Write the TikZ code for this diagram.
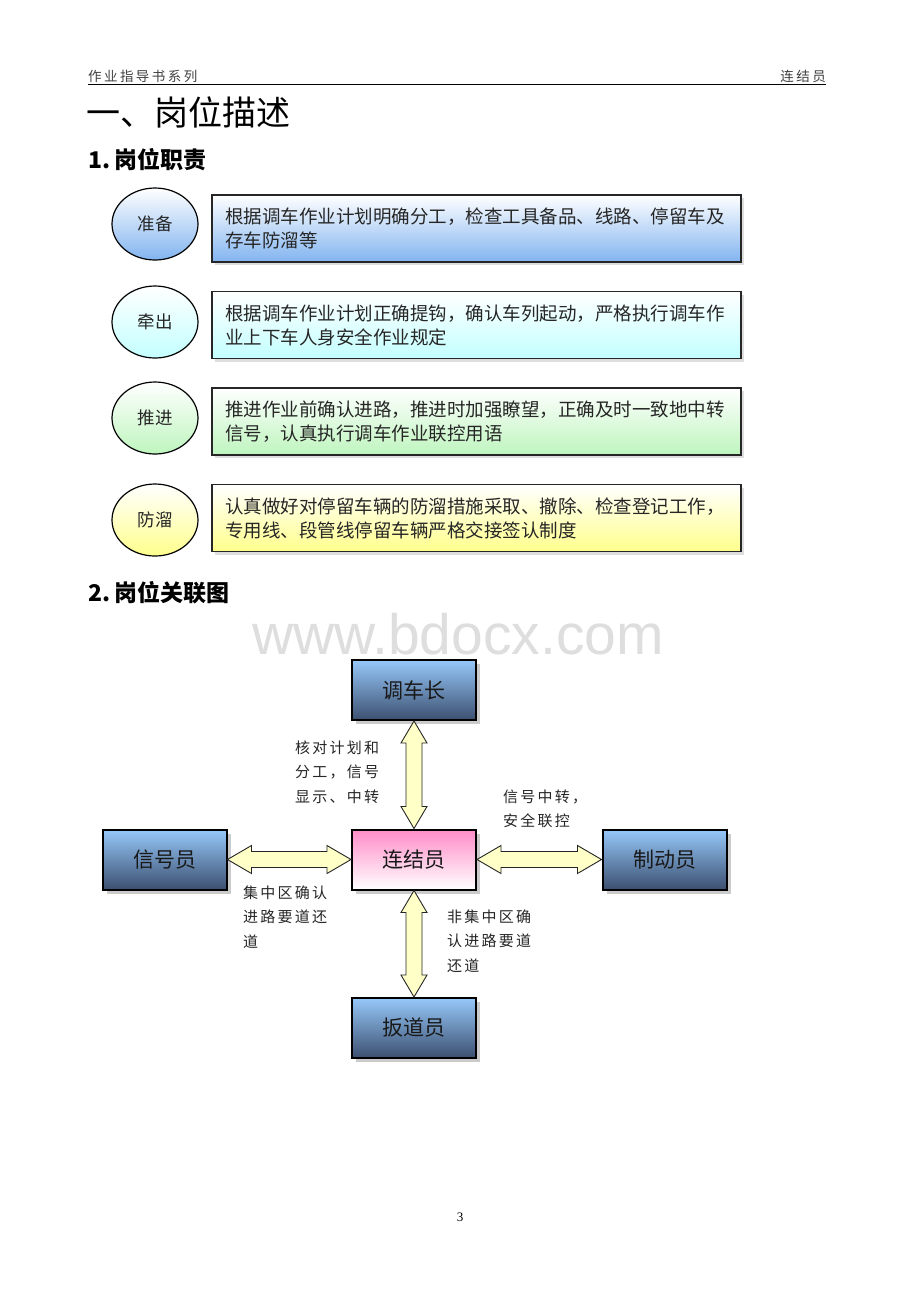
\documentclass[tikz,border=0pt]{standalone}
\usepackage{fontspec}
\setmainfont{Noto Sans CJK SC}
\newfontfamily\numfont{Liberation Serif}
\newfontfamily\wmfont{Liberation Sans}
\usetikzlibrary{shadows,calc,shapes.geometric}
\definecolor{rbtop}{RGB}{150,200,250}
\definecolor{rbbot}{RGB}{60,80,112}
\definecolor{pinktop}{RGB}{255,140,200}
\definecolor{arrfill}{RGB}{255,255,200}
\definecolor{bluebot}{RGB}{130,180,240}
\definecolor{cyanbot}{RGB}{195,255,255}
\definecolor{greenbot}{RGB}{190,245,190}
\definecolor{yellowbot}{RGB}{255,255,140}
\newcommand\vdarrow[2]{\draw[blockarrow] (#1) -- ($(#1)+(13,22)$) -- ($(#1)+(8,22)$) -- ($(#2)+(8,-22)$) -- ($(#2)+(13,-22)$) -- (#2) -- ($(#2)+(-13,-22)$) -- ($(#2)+(-8,-22)$) -- ($(#1)+(-8,22)$) -- ($(#1)+(-13,22)$) -- cycle;}
\newcommand\hdarrow[2]{\draw[blockarrow] (#1) -- ($(#1)+(24,-14)$) -- ($(#1)+(24,-8)$) -- ($(#2)+(-24,-8)$) -- ($(#2)+(-24,-14)$) -- (#2) -- ($(#2)+(-24,14)$) -- ($(#2)+(-24,8)$) -- ($(#1)+(24,8)$) -- ($(#1)+(24,14)$) -- cycle;}
\begin{document}
\begin{tikzpicture}[x=1pt,y=-1pt,
  taskbox/.style={rectangle, draw=black!85, line width=1.3pt, minimum width=529pt, minimum height=67pt,
     text width=503pt, inner xsep=13pt, align=left, font=\fontsize{18.5}{24}\selectfont, text=black!85,
     drop shadow={shadow xshift=3pt, shadow yshift=-3pt, fill=black!25}},
  taskcirc/.style={ellipse, draw=black, line width=1.2pt, minimum width=86pt, minimum height=72pt,
     font=\fontsize{17.5}{18}\selectfont, text=black!85},
  rolebox/.style={rectangle, draw=black, line width=2pt, minimum width=124pt, minimum height=60pt,
     top color=rbtop, bottom color=rbbot, font=\fontsize{21}{21}\selectfont, text=black!90,
     drop shadow={shadow xshift=4pt, shadow yshift=-4pt, fill=black!40}},
  blockarrow/.style={draw=black!85, line width=0.9pt, fill=arrfill, line join=miter},
  lbl/.style={anchor=north west, inner sep=0pt, align=left, text=black!85,
     font=\fontsize{15}{24.5}\selectfont\addfontfeature{LetterSpace=15}},
]
\useasboundingbox (0,0) rectangle (920,1302);
\fill[white] (0,0) rectangle (920,1302);

% header
\node[anchor=base west, inner sep=0pt, text=black!75, font=\fontsize{13.5}{14}\selectfont\addfontfeature{LetterSpace=18}] (hl) at (88,81) {作业指导书系列};
\node[anchor=base east, inner sep=0pt, text=black!75, font=\fontsize{13.5}{14}\selectfont\addfontfeature{LetterSpace=18}] (hr) at (826,81) {连结员};
\draw[line width=0.8pt] (88,84.5) -- (826,84.5);

% titles
\node[anchor=west, inner sep=0pt, font=\fontsize{34}{34}\selectfont] (t1) at (86,112) {一、岗位描述};
\node[anchor=west, inner sep=0pt, font=\fontsize{23}{23}\selectfont\bfseries] (t2) at (88,160) {1.\,岗位职责};
\node[anchor=west, inner sep=0pt, font=\fontsize{23}{23}\selectfont\bfseries] (t3) at (88,593) {2.\,岗位关联图};

% section 1
\node[taskbox, top color=white, bottom color=bluebot] (b1) at (476.5,228.5) {根据调车作业计划明确分工，检查工具备品、线路、停留车及\\存车防溜等};
\node[taskbox, top color=white, bottom color=cyanbot] (b2) at (476.5,325) {根据调车作业计划正确提钩，确认车列起动，严格执行调车作\\业上下车人身安全作业规定};
\node[taskbox, top color=white, bottom color=greenbot] (b3) at (476.5,421.5) {推进作业前确认进路，推进时加强瞭望，正确及时一致地中转\\信号，认真执行调车作业联控用语};
\node[taskbox, top color=white, bottom color=yellowbot] (b4) at (476.5,518) {认真做好对停留车辆的防溜措施采取、撤除、检查登记工作，\\专用线、段管线停留车辆严格交接签认制度};

\node[taskcirc, top color=white, bottom color=bluebot] (c1) at (155,224) {准备};
\node[taskcirc, top color=white, bottom color=cyanbot] (c2) at (155,322) {牵出};
\node[taskcirc, top color=white, bottom color=greenbot] (c3) at (155,418) {推进};
\node[taskcirc, top color=white, bottom color=yellowbot] (c4) at (155,520) {防溜};

% watermark
\node[inner sep=0pt, text=black!13, font=\wmfont\fontsize{57}{57}\selectfont] (wm) at (458,634) {www.bdocx.com};

% section 2
\node[rolebox] (tz) at (414,690) {调车长};
\node[rolebox] (xh) at (164.5,859.5) {信号员};
\node[rolebox, top color=pinktop, bottom color=white] (lj) at (414,859.5) {连结员};
\node[rolebox] (zd) at (664.5,859.5) {制动员};
\node[rolebox] (bd) at (414,1028) {扳道员};

\vdarrow{tz.south}{lj.north}
\vdarrow{lj.south}{bd.north}
\hdarrow{xh.east}{lj.west}
\hdarrow{lj.east}{zd.west}

\node[lbl] (l1) at (295,740.5) {核对计划和\\分工，信号\\显示、中转};
\node[lbl] (l2) at (503,789.5) {信号中转，\\安全联控};
\node[lbl] (l3) at (243,885.5) {集中区确认\\进路要道还\\道};
\node[lbl] (l4) at (447,909.5) {非集中区确\\认进路要道\\还道};

\node[inner sep=0pt, font=\numfont\fontsize{13}{13}\selectfont] (pn) at (460,1217) {3};
\end{tikzpicture}
\end{document}
